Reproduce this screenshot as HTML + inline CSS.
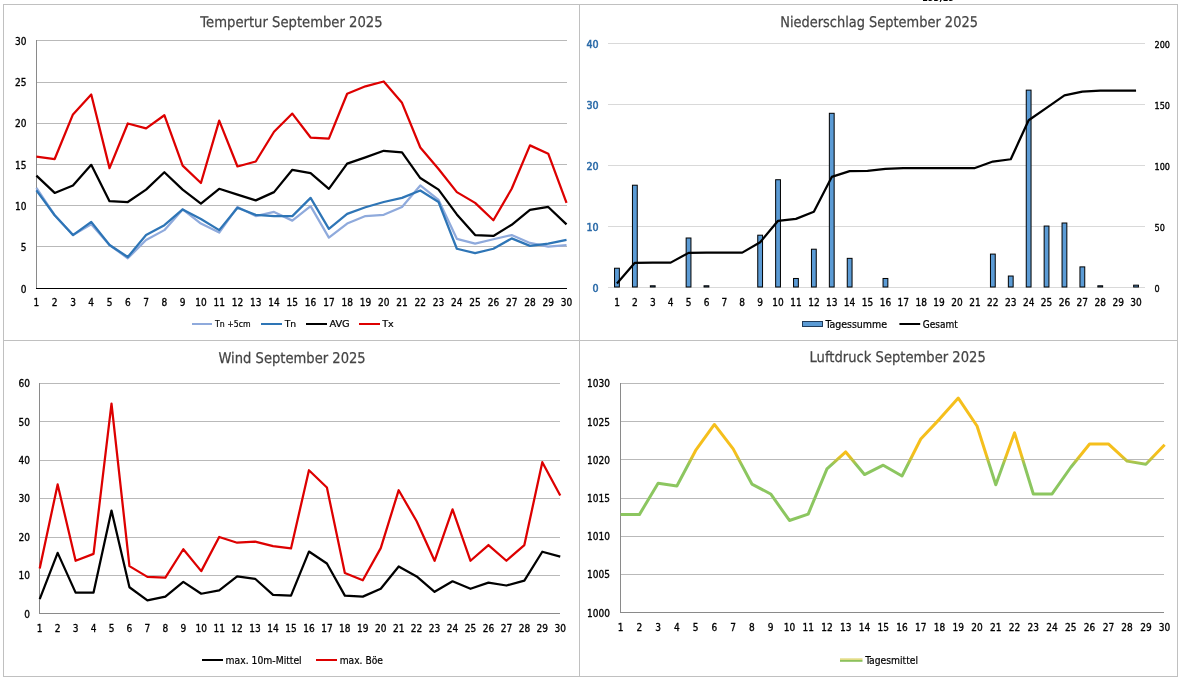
<!DOCTYPE html><html><head><meta charset="utf-8"><title>Wetter September 2025</title><style>
html,body{margin:0;padding:0;background:#fff;width:1181px;height:680px;overflow:hidden}
svg{display:block;will-change:transform} text{font-family:"DejaVu Sans", "Liberation Sans", sans-serif} .t{text-rendering:geometricPrecision;font-size:14.7px;fill:#444444;stroke:#444444;stroke-width:0.25px} .ax{font-size:10px;fill:#000;font-stretch:condensed;stroke:#000;stroke-width:0.3px} .lg{font-size:9.3px;fill:#000;font-stretch:condensed;stroke:#000;stroke-width:0.2px}
</style></head><body>
<svg width="1181" height="680" viewBox="0 0 1181 680">
<rect width="1181" height="680" fill="#fff"/>
<text x="922" y="1.2" font-size="9px" fill="#000" style="font-family:&quot;DejaVu Sans&quot;,sans-serif;font-weight:bold" textLength="32" lengthAdjust="spacingAndGlyphs">153,15</text>
<g stroke="#c0c0c0" stroke-width="1" fill="none" shape-rendering="crispEdges">
<line x1="3" y1="4.5" x2="1178" y2="4.5"/>
<line x1="3" y1="340.5" x2="1178" y2="340.5"/>
<line x1="3" y1="676.5" x2="1178" y2="676.5"/>
<line x1="3.5" y1="4" x2="3.5" y2="677"/>
<line x1="579.5" y1="4" x2="579.5" y2="677"/>
<line x1="1177.5" y1="4" x2="1177.5" y2="677"/>
</g>
<text class="t" x="200.3" y="26.8" textLength="182.3" lengthAdjust="spacingAndGlyphs">Tempertur September 2025</text>
<g stroke="#b9b9b9" stroke-width="1" shape-rendering="crispEdges">
<line x1="36" y1="246.5" x2="567" y2="246.5"/>
<line x1="36" y1="205.5" x2="567" y2="205.5"/>
<line x1="36" y1="164.5" x2="567" y2="164.5"/>
<line x1="36" y1="123.5" x2="567" y2="123.5"/>
<line x1="36" y1="82.5" x2="567" y2="82.5"/>
<line x1="36" y1="40.5" x2="567" y2="40.5"/>
</g>
<line x1="36.5" y1="40" x2="36.5" y2="288" stroke="#8a8a8a" stroke-width="1" shape-rendering="crispEdges"/>
<line x1="36" y1="288.5" x2="567" y2="288.5" stroke="#000" stroke-width="1" shape-rendering="crispEdges"/>
<text class="ax" x="26.5" y="292.7" text-anchor="end">0</text>
<text class="ax" x="26.5" y="251.4" text-anchor="end">5</text>
<text class="ax" x="26.5" y="210.0" text-anchor="end">10</text>
<text class="ax" x="26.5" y="168.7" text-anchor="end">15</text>
<text class="ax" x="26.5" y="127.4" text-anchor="end">20</text>
<text class="ax" x="26.5" y="86.0" text-anchor="end">25</text>
<text class="ax" x="26.5" y="44.7" text-anchor="end">30</text>
<text class="ax" x="36.4" y="306" text-anchor="middle">1</text>
<text class="ax" x="54.7" y="306" text-anchor="middle">2</text>
<text class="ax" x="73.0" y="306" text-anchor="middle">3</text>
<text class="ax" x="91.2" y="306" text-anchor="middle">4</text>
<text class="ax" x="109.5" y="306" text-anchor="middle">5</text>
<text class="ax" x="127.8" y="306" text-anchor="middle">6</text>
<text class="ax" x="146.1" y="306" text-anchor="middle">7</text>
<text class="ax" x="164.4" y="306" text-anchor="middle">8</text>
<text class="ax" x="182.6" y="306" text-anchor="middle">9</text>
<text class="ax" x="200.9" y="306" text-anchor="middle">10</text>
<text class="ax" x="219.2" y="306" text-anchor="middle">11</text>
<text class="ax" x="237.5" y="306" text-anchor="middle">12</text>
<text class="ax" x="255.8" y="306" text-anchor="middle">13</text>
<text class="ax" x="274.0" y="306" text-anchor="middle">14</text>
<text class="ax" x="292.3" y="306" text-anchor="middle">15</text>
<text class="ax" x="310.6" y="306" text-anchor="middle">16</text>
<text class="ax" x="328.9" y="306" text-anchor="middle">17</text>
<text class="ax" x="347.2" y="306" text-anchor="middle">18</text>
<text class="ax" x="365.4" y="306" text-anchor="middle">19</text>
<text class="ax" x="383.7" y="306" text-anchor="middle">20</text>
<text class="ax" x="402.0" y="306" text-anchor="middle">21</text>
<text class="ax" x="420.3" y="306" text-anchor="middle">22</text>
<text class="ax" x="438.6" y="306" text-anchor="middle">23</text>
<text class="ax" x="456.8" y="306" text-anchor="middle">24</text>
<text class="ax" x="475.1" y="306" text-anchor="middle">25</text>
<text class="ax" x="493.4" y="306" text-anchor="middle">26</text>
<text class="ax" x="511.7" y="306" text-anchor="middle">27</text>
<text class="ax" x="530.0" y="306" text-anchor="middle">28</text>
<text class="ax" x="548.2" y="306" text-anchor="middle">29</text>
<text class="ax" x="566.5" y="306" text-anchor="middle">30</text>
<polyline points="36.4,187.97 54.68,215.25 72.96,235.09 91.24,224.34 109.52,245.01 127.8,258.24 146.08,240.05 164.36,230.13 182.64,209.46 200.92,223.52 219.2,232.61 237.48,206.98 255.76,216.08 274.04,211.94 292.32,220.62 310.6,206.16 328.88,237.57 347.16,223.52 365.44,216.08 383.72,214.84 402,206.98 420.28,185.49 438.56,199.96 456.84,238.81 475.12,243.69 493.4,239.22 511.68,235.09 529.96,242.94 548.24,246.67 566.52,245.01" fill="none" stroke="#8faadc" stroke-width="2.25" stroke-linejoin="round" stroke-linecap="butt" />
<polyline points="36.4,190.45 54.68,215.25 72.96,235.09 91.24,221.86 109.52,245.01 127.8,257 146.08,235.09 164.36,225.17 182.64,209.46 200.92,218.97 219.2,230.13 237.48,207.81 255.76,214.84 274.04,216.08 292.32,216.08 310.6,197.89 328.88,228.89 347.16,213.85 365.44,207.23 383.72,202.02 402,197.89 420.28,190.45 438.56,202.02 456.84,248.73 475.12,253.03 493.4,248.73 511.68,238.4 529.96,245.84 548.24,243.69 566.52,239.8" fill="none" stroke="#2e75b6" stroke-width="2.25" stroke-linejoin="round" stroke-linecap="butt" />
<polyline points="36.4,175.57 54.68,192.93 72.96,185.49 91.24,164.82 109.52,201.2 127.8,202.02 146.08,189.62 164.36,172.26 182.64,189.62 200.92,203.68 219.2,188.8 237.48,194.58 255.76,200.37 274.04,192.1 292.32,169.78 310.6,173.09 328.88,188.8 347.16,163.58 365.44,157.38 383.72,150.77 402,152.42 420.28,178.05 438.56,189.62 456.84,214.42 475.12,235.09 493.4,235.92 511.68,224.76 529.96,209.88 548.24,206.98 566.52,224.34" fill="none" stroke="#000000" stroke-width="2.25" stroke-linejoin="round" stroke-linecap="butt" />
<polyline points="36.4,156.55 54.68,159.03 72.96,114.39 91.24,94.55 109.52,168.13 127.8,123.49 146.08,128.45 164.36,115.22 182.64,165.65 200.92,183.01 219.2,120.59 237.48,166.48 255.76,161.51 274.04,131.75 292.32,113.57 310.6,137.54 328.88,138.7 347.16,93.73 365.44,86.29 383.72,81.49 402,102.82 420.28,147.46 438.56,168.96 456.84,192.1 475.12,202.85 493.4,220.21 511.68,188.8 529.96,145.39 548.24,153.66 566.52,202.85" fill="none" stroke="#dd0000" stroke-width="2.25" stroke-linejoin="round" stroke-linecap="butt" />
<g stroke-width="2">
<line x1="192" y1="324" x2="212" y2="324" stroke="#8faadc"/>
<line x1="261" y1="324" x2="282" y2="324" stroke="#2e75b6"/>
<line x1="306" y1="324" x2="327" y2="324" stroke="#000"/>
<line x1="359" y1="324" x2="380" y2="324" stroke="#dd0000"/>
</g>
<text class="lg" x="215" y="327.3" textLength="35.7" lengthAdjust="spacingAndGlyphs" style="font-size:9.3px">Tn +5cm</text>
<text class="lg" x="284.7" y="327.3" textLength="11.5" lengthAdjust="spacingAndGlyphs" style="font-size:9.3px">Tn</text>
<text class="lg" x="329.4" y="327.3" textLength="20.3" lengthAdjust="spacingAndGlyphs" style="font-size:9.3px">AVG</text>
<text class="lg" x="382.2" y="327.3" textLength="11.6" lengthAdjust="spacingAndGlyphs" style="font-size:9.3px">Tx</text>
<text class="t" x="780.2" y="26.8" textLength="197.7" lengthAdjust="spacingAndGlyphs">Niederschlag September 2025</text>
<g stroke="#d9d9d9" stroke-width="1" shape-rendering="crispEdges">
<line x1="608" y1="287.5" x2="1145" y2="287.5"/>
<line x1="608" y1="226.5" x2="1145" y2="226.5"/>
<line x1="608" y1="165.5" x2="1145" y2="165.5"/>
<line x1="608" y1="104.5" x2="1145" y2="104.5"/>
<line x1="608" y1="43.5" x2="1145" y2="43.5"/>
</g>
<text class="ax" x="598.5" y="292.2" text-anchor="end" fill="#2e75b6" style="fill:#2a6aa8;stroke:#2a6aa8;stroke-width:0.5px;font-size:10.6px">0</text>
<text class="ax" x="598.5" y="231.2" text-anchor="end" fill="#2e75b6" style="fill:#2a6aa8;stroke:#2a6aa8;stroke-width:0.5px;font-size:10.6px">10</text>
<text class="ax" x="598.5" y="170.3" text-anchor="end" fill="#2e75b6" style="fill:#2a6aa8;stroke:#2a6aa8;stroke-width:0.5px;font-size:10.6px">20</text>
<text class="ax" x="598.5" y="109.4" text-anchor="end" fill="#2e75b6" style="fill:#2a6aa8;stroke:#2a6aa8;stroke-width:0.5px;font-size:10.6px">30</text>
<text class="ax" x="598.5" y="48.4" text-anchor="end" fill="#2e75b6" style="fill:#2a6aa8;stroke:#2a6aa8;stroke-width:0.5px;font-size:10.6px">40</text>
<text class="ax" x="1154.5" y="291.9" style="font-size:9px">0</text>
<text class="ax" x="1154.5" y="230.9" style="font-size:9px">50</text>
<text class="ax" x="1154.5" y="169.9" style="font-size:9px">100</text>
<text class="ax" x="1154.5" y="108.9" style="font-size:9px">150</text>
<text class="ax" x="1154.5" y="47.9" style="font-size:9px">200</text>
<text class="ax" x="617.0" y="306.3" text-anchor="middle">1</text>
<text class="ax" x="634.9" y="306.3" text-anchor="middle">2</text>
<text class="ax" x="652.8" y="306.3" text-anchor="middle">3</text>
<text class="ax" x="670.6" y="306.3" text-anchor="middle">4</text>
<text class="ax" x="688.5" y="306.3" text-anchor="middle">5</text>
<text class="ax" x="706.5" y="306.3" text-anchor="middle">6</text>
<text class="ax" x="724.4" y="306.3" text-anchor="middle">7</text>
<text class="ax" x="742.2" y="306.3" text-anchor="middle">8</text>
<text class="ax" x="760.1" y="306.3" text-anchor="middle">9</text>
<text class="ax" x="778.0" y="306.3" text-anchor="middle">10</text>
<text class="ax" x="796.0" y="306.3" text-anchor="middle">11</text>
<text class="ax" x="813.9" y="306.3" text-anchor="middle">12</text>
<text class="ax" x="831.8" y="306.3" text-anchor="middle">13</text>
<text class="ax" x="849.6" y="306.3" text-anchor="middle">14</text>
<text class="ax" x="867.5" y="306.3" text-anchor="middle">15</text>
<text class="ax" x="885.5" y="306.3" text-anchor="middle">16</text>
<text class="ax" x="903.3" y="306.3" text-anchor="middle">17</text>
<text class="ax" x="921.2" y="306.3" text-anchor="middle">18</text>
<text class="ax" x="939.1" y="306.3" text-anchor="middle">19</text>
<text class="ax" x="957.0" y="306.3" text-anchor="middle">20</text>
<text class="ax" x="975.0" y="306.3" text-anchor="middle">21</text>
<text class="ax" x="992.8" y="306.3" text-anchor="middle">22</text>
<text class="ax" x="1010.8" y="306.3" text-anchor="middle">23</text>
<text class="ax" x="1028.7" y="306.3" text-anchor="middle">24</text>
<text class="ax" x="1046.5" y="306.3" text-anchor="middle">25</text>
<text class="ax" x="1064.5" y="306.3" text-anchor="middle">26</text>
<text class="ax" x="1082.3" y="306.3" text-anchor="middle">27</text>
<text class="ax" x="1100.2" y="306.3" text-anchor="middle">28</text>
<text class="ax" x="1118.2" y="306.3" text-anchor="middle">29</text>
<text class="ax" x="1136.0" y="306.3" text-anchor="middle">30</text>
<rect x="614.55" y="268.23" width="4.8" height="18.77" fill="#5b9bd5" stroke="#000" stroke-width="1"/>
<rect x="632.45" y="185.21" width="4.8" height="101.79" fill="#5b9bd5" stroke="#000" stroke-width="1"/>
<rect x="650.35" y="285.78" width="4.8" height="1.22" fill="#5b9bd5" stroke="#000" stroke-width="1"/>
<rect x="686.15" y="238.00" width="4.8" height="49.00" fill="#5b9bd5" stroke="#000" stroke-width="1"/>
<rect x="704.05" y="285.78" width="4.8" height="1.22" fill="#5b9bd5" stroke="#000" stroke-width="1"/>
<rect x="757.75" y="235.19" width="4.8" height="51.81" fill="#5b9bd5" stroke="#000" stroke-width="1"/>
<rect x="775.65" y="179.73" width="4.8" height="107.27" fill="#5b9bd5" stroke="#000" stroke-width="1"/>
<rect x="793.55" y="278.47" width="4.8" height="8.53" fill="#5b9bd5" stroke="#000" stroke-width="1"/>
<rect x="811.45" y="249.21" width="4.8" height="37.79" fill="#5b9bd5" stroke="#000" stroke-width="1"/>
<rect x="829.35" y="113.29" width="4.8" height="173.71" fill="#5b9bd5" stroke="#000" stroke-width="1"/>
<rect x="847.25" y="258.35" width="4.8" height="28.65" fill="#5b9bd5" stroke="#000" stroke-width="1"/>
<rect x="883.05" y="278.47" width="4.8" height="8.53" fill="#5b9bd5" stroke="#000" stroke-width="1"/>
<rect x="990.45" y="254.09" width="4.8" height="32.91" fill="#5b9bd5" stroke="#000" stroke-width="1"/>
<rect x="1008.35" y="276.03" width="4.8" height="10.97" fill="#5b9bd5" stroke="#000" stroke-width="1"/>
<rect x="1026.25" y="90.13" width="4.8" height="196.87" fill="#5b9bd5" stroke="#000" stroke-width="1"/>
<rect x="1044.15" y="226.05" width="4.8" height="60.95" fill="#5b9bd5" stroke="#000" stroke-width="1"/>
<rect x="1062.05" y="223.00" width="4.8" height="64.00" fill="#5b9bd5" stroke="#000" stroke-width="1"/>
<rect x="1079.95" y="266.89" width="4.8" height="20.11" fill="#5b9bd5" stroke="#000" stroke-width="1"/>
<rect x="1097.85" y="285.78" width="4.8" height="1.22" fill="#5b9bd5" stroke="#000" stroke-width="1"/>
<rect x="1133.65" y="285.17" width="4.8" height="1.83" fill="#5b9bd5" stroke="#000" stroke-width="1"/>
<polyline points="616.95,283.46 634.85,262.86 652.75,262.62 670.65,262.62 688.55,252.87 706.45,252.62 724.35,252.62 742.25,252.62 760.15,242.26 778.05,220.81 795.95,218.86 813.85,211.79 831.75,176.92 849.65,171.07 867.55,170.95 885.45,168.88 903.35,168.03 921.25,168.03 939.15,168.03 957.05,168.03 974.95,168.03 992.85,161.56 1010.75,159.25 1028.65,120.24 1046.55,107.81 1064.45,95.37 1082.35,91.72 1100.25,90.74 1118.15,90.74 1136.05,90.74" fill="none" stroke="#000" stroke-width="2.25" stroke-linejoin="round" stroke-linecap="butt" />
<rect x="802.5" y="321.5" width="20" height="5" fill="#5b9bd5" stroke="#1f3b5a" stroke-width="1"/>
<text class="lg" x="825.4" y="327.6" textLength="61.6" lengthAdjust="spacingAndGlyphs" style="font-size:9.8px">Tagessumme</text>
<line x1="899.4" y1="324" x2="920.2" y2="324" stroke="#000" stroke-width="2"/>
<text class="lg" x="922.8" y="327.6" textLength="35.0" lengthAdjust="spacingAndGlyphs" style="font-size:9.8px">Gesamt</text>
<text class="t" x="218.4" y="362.6" textLength="147.3" lengthAdjust="spacingAndGlyphs">Wind September 2025</text>
<g stroke="#b9b9b9" stroke-width="1" shape-rendering="crispEdges">
<line x1="40" y1="575.5" x2="560" y2="575.5"/>
<line x1="40" y1="537.5" x2="560" y2="537.5"/>
<line x1="40" y1="498.5" x2="560" y2="498.5"/>
<line x1="40" y1="460.5" x2="560" y2="460.5"/>
<line x1="40" y1="421.5" x2="560" y2="421.5"/>
<line x1="40" y1="383.5" x2="560" y2="383.5"/>
</g>
<path d="M39.5 383V613.5H560" fill="none" stroke="#8a8a8a" stroke-width="1" shape-rendering="crispEdges"/>
<text class="ax" x="30" y="617.5" text-anchor="end">0</text>
<text class="ax" x="30" y="579.1" text-anchor="end">10</text>
<text class="ax" x="30" y="540.8" text-anchor="end">20</text>
<text class="ax" x="30" y="502.4" text-anchor="end">30</text>
<text class="ax" x="30" y="464.1" text-anchor="end">40</text>
<text class="ax" x="30" y="425.7" text-anchor="end">50</text>
<text class="ax" x="30" y="387.4" text-anchor="end">60</text>
<text class="ax" x="39.7" y="632.2" text-anchor="middle">1</text>
<text class="ax" x="57.7" y="632.2" text-anchor="middle">2</text>
<text class="ax" x="75.6" y="632.2" text-anchor="middle">3</text>
<text class="ax" x="93.5" y="632.2" text-anchor="middle">4</text>
<text class="ax" x="111.5" y="632.2" text-anchor="middle">5</text>
<text class="ax" x="129.4" y="632.2" text-anchor="middle">6</text>
<text class="ax" x="147.4" y="632.2" text-anchor="middle">7</text>
<text class="ax" x="165.3" y="632.2" text-anchor="middle">8</text>
<text class="ax" x="183.3" y="632.2" text-anchor="middle">9</text>
<text class="ax" x="201.2" y="632.2" text-anchor="middle">10</text>
<text class="ax" x="219.2" y="632.2" text-anchor="middle">11</text>
<text class="ax" x="237.1" y="632.2" text-anchor="middle">12</text>
<text class="ax" x="255.1" y="632.2" text-anchor="middle">13</text>
<text class="ax" x="273.1" y="632.2" text-anchor="middle">14</text>
<text class="ax" x="291.0" y="632.2" text-anchor="middle">15</text>
<text class="ax" x="308.9" y="632.2" text-anchor="middle">16</text>
<text class="ax" x="326.9" y="632.2" text-anchor="middle">17</text>
<text class="ax" x="344.8" y="632.2" text-anchor="middle">18</text>
<text class="ax" x="362.8" y="632.2" text-anchor="middle">19</text>
<text class="ax" x="380.8" y="632.2" text-anchor="middle">20</text>
<text class="ax" x="398.7" y="632.2" text-anchor="middle">21</text>
<text class="ax" x="416.6" y="632.2" text-anchor="middle">22</text>
<text class="ax" x="434.6" y="632.2" text-anchor="middle">23</text>
<text class="ax" x="452.5" y="632.2" text-anchor="middle">24</text>
<text class="ax" x="470.5" y="632.2" text-anchor="middle">25</text>
<text class="ax" x="488.4" y="632.2" text-anchor="middle">26</text>
<text class="ax" x="506.4" y="632.2" text-anchor="middle">27</text>
<text class="ax" x="524.4" y="632.2" text-anchor="middle">28</text>
<text class="ax" x="542.3" y="632.2" text-anchor="middle">29</text>
<text class="ax" x="560.2" y="632.2" text-anchor="middle">30</text>
<polyline points="39.7,599.11 57.65,552.9 75.6,592.59 93.55,592.59 111.5,510.52 129.45,587.22 147.4,600.45 165.35,596.62 183.3,581.85 201.25,593.74 219.2,590.29 237.15,576.48 255.1,578.78 273.05,594.89 291,595.66 308.95,551.56 326.9,563.44 344.85,595.66 362.8,596.62 380.75,588.76 398.7,566.51 416.65,576.48 434.6,591.82 452.55,581.28 470.5,588.76 488.45,582.62 506.4,585.5 524.35,580.7 542.3,551.75 560.25,556.54" fill="none" stroke="#000" stroke-width="2.25" stroke-linejoin="round" stroke-linecap="butt" />
<polyline points="39.7,568.43 57.65,484.44 75.6,560.76 93.55,553.86 111.5,403.53 129.45,566.13 147.4,576.87 165.35,577.63 183.3,549.26 201.25,571.12 219.2,536.98 237.15,542.74 255.1,541.59 273.05,546.19 291,548.49 308.95,470.25 326.9,487.51 344.85,573.03 362.8,580.32 380.75,548.11 398.7,490.2 416.65,521.26 434.6,560.76 452.55,509.37 470.5,560.76 488.45,545.04 506.4,560.76 524.35,545.04 542.3,462.2 560.25,495.57" fill="none" stroke="#dd0000" stroke-width="2.25" stroke-linejoin="round" stroke-linecap="butt" />
<line x1="202" y1="660" x2="223" y2="660" stroke="#000" stroke-width="2"/>
<text class="lg" x="225.6" y="663.7" textLength="76.1" lengthAdjust="spacingAndGlyphs" style="font-size:10.8px">max. 10m-Mittel</text>
<line x1="316" y1="660" x2="337" y2="660" stroke="#dd0000" stroke-width="2"/>
<text class="lg" x="339.7" y="663.7" textLength="43.2" lengthAdjust="spacingAndGlyphs" style="font-size:10.8px">max. Böe</text>
<text class="t" x="809.5" y="362.2" textLength="176.3" lengthAdjust="spacingAndGlyphs">Luftdruck September 2025</text>
<g stroke="#b9b9b9" stroke-width="1" shape-rendering="crispEdges">
<line x1="621" y1="574.5" x2="1164" y2="574.5"/>
<line x1="621" y1="536.5" x2="1164" y2="536.5"/>
<line x1="621" y1="498.5" x2="1164" y2="498.5"/>
<line x1="621" y1="459.5" x2="1164" y2="459.5"/>
<line x1="621" y1="421.5" x2="1164" y2="421.5"/>
<line x1="621" y1="383.5" x2="1164" y2="383.5"/>
</g>
<path d="M620.5 383V612.5H1164" fill="none" stroke="#8a8a8a" stroke-width="1" shape-rendering="crispEdges"/>
<text class="ax" x="610" y="616.6" text-anchor="end">1000</text>
<text class="ax" x="610" y="578.4" text-anchor="end">1005</text>
<text class="ax" x="610" y="540.2" text-anchor="end">1010</text>
<text class="ax" x="610" y="502.0" text-anchor="end">1015</text>
<text class="ax" x="610" y="463.8" text-anchor="end">1020</text>
<text class="ax" x="610" y="425.6" text-anchor="end">1025</text>
<text class="ax" x="610" y="387.4" text-anchor="end">1030</text>
<text class="ax" x="620.6" y="630.8" text-anchor="middle">1</text>
<text class="ax" x="639.4" y="630.8" text-anchor="middle">2</text>
<text class="ax" x="658.1" y="630.8" text-anchor="middle">3</text>
<text class="ax" x="676.9" y="630.8" text-anchor="middle">4</text>
<text class="ax" x="695.6" y="630.8" text-anchor="middle">5</text>
<text class="ax" x="714.4" y="630.8" text-anchor="middle">6</text>
<text class="ax" x="733.2" y="630.8" text-anchor="middle">7</text>
<text class="ax" x="751.9" y="630.8" text-anchor="middle">8</text>
<text class="ax" x="770.7" y="630.8" text-anchor="middle">9</text>
<text class="ax" x="789.4" y="630.8" text-anchor="middle">10</text>
<text class="ax" x="808.2" y="630.8" text-anchor="middle">11</text>
<text class="ax" x="827.0" y="630.8" text-anchor="middle">12</text>
<text class="ax" x="845.7" y="630.8" text-anchor="middle">13</text>
<text class="ax" x="864.5" y="630.8" text-anchor="middle">14</text>
<text class="ax" x="883.2" y="630.8" text-anchor="middle">15</text>
<text class="ax" x="902.0" y="630.8" text-anchor="middle">16</text>
<text class="ax" x="920.8" y="630.8" text-anchor="middle">17</text>
<text class="ax" x="939.5" y="630.8" text-anchor="middle">18</text>
<text class="ax" x="958.3" y="630.8" text-anchor="middle">19</text>
<text class="ax" x="977.0" y="630.8" text-anchor="middle">20</text>
<text class="ax" x="995.8" y="630.8" text-anchor="middle">21</text>
<text class="ax" x="1014.6" y="630.8" text-anchor="middle">22</text>
<text class="ax" x="1033.3" y="630.8" text-anchor="middle">23</text>
<text class="ax" x="1052.1" y="630.8" text-anchor="middle">24</text>
<text class="ax" x="1070.8" y="630.8" text-anchor="middle">25</text>
<text class="ax" x="1089.6" y="630.8" text-anchor="middle">26</text>
<text class="ax" x="1108.4" y="630.8" text-anchor="middle">27</text>
<text class="ax" x="1127.1" y="630.8" text-anchor="middle">28</text>
<text class="ax" x="1145.9" y="630.8" text-anchor="middle">29</text>
<text class="ax" x="1164.6" y="630.8" text-anchor="middle">30</text>
<defs><linearGradient id="pg" gradientUnits="userSpaceOnUse" x1="0" y1="470" x2="0" y2="450"><stop offset="0" stop-color="#8cc660"/><stop offset="0.25" stop-color="#8cc660"/><stop offset="0.75" stop-color="#f5bf1c"/><stop offset="1" stop-color="#f5bf1c"/></linearGradient><linearGradient id="pg2" x1="0" y1="1" x2="0" y2="0"><stop offset="0.55" stop-color="#8cc15c"/><stop offset="0.55" stop-color="#e2dc86"/></linearGradient></defs>
<polyline points="620.6,514.61 639.36,514.61 658.12,483.28 676.88,485.96 695.64,450.43 714.4,424.46 733.16,448.9 751.92,484.05 770.68,493.98 789.44,520.49 808.2,514.07 826.96,468.92 845.72,451.96 864.48,474.57 883.24,465.18 902,476.03 920.76,438.97 939.52,419.11 958.28,398.1 977.04,425.98 995.8,484.81 1014.56,432.86 1033.32,493.98 1052.08,493.98 1070.84,467.24 1089.6,443.94 1108.36,443.94 1127.12,461.13 1145.88,464.18 1164.64,444.7" fill="none" stroke="url(#pg)" stroke-width="3.0" stroke-linejoin="round" stroke-linecap="butt" />
<rect x="840" y="658.3" width="22.5" height="3.5" fill="url(#pg2)"/>
<text class="lg" x="865.2" y="663.6" textLength="52.8" lengthAdjust="spacingAndGlyphs" style="font-size:10.8px">Tagesmittel</text>
</svg></body></html>
